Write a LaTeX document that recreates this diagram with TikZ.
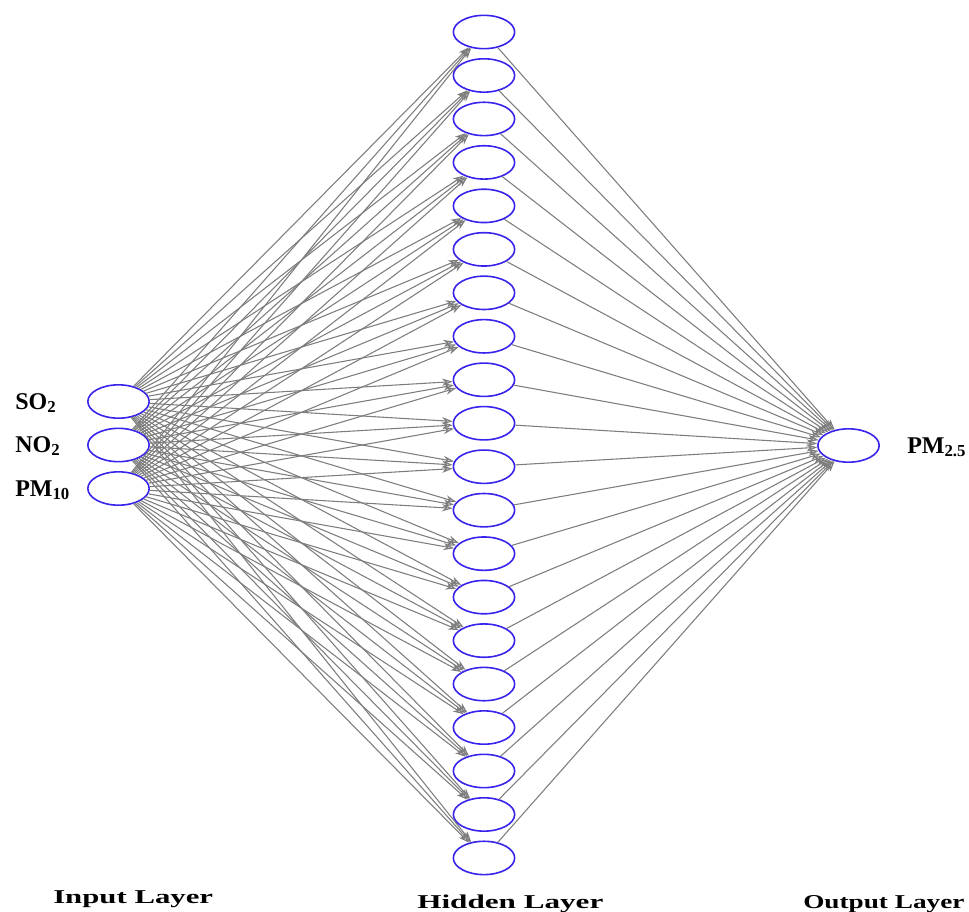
\documentclass[tikz,border=0pt]{standalone}
\usepackage{fontspec}
\setmainfont{Liberation Serif}
\usetikzlibrary{shapes.geometric,arrows.meta}
\definecolor{nodeblue}{RGB}{55,35,235}
\definecolor{edgegray}{RGB}{125,125,125}
\begin{document}
\begin{tikzpicture}[x=0.75pt,y=-0.75pt,
 neuron/.style={ellipse,draw=nodeblue,line width=1.2pt,minimum width=46pt,minimum height=25pt,inner sep=0pt},
 conn/.style={draw=edgegray,line width=0.8pt,-{Stealth[length=8pt,width=5.5pt,fill=edgegray!45]}},
 inlabel/.style={font=\bfseries\fontsize{18}{20}\selectfont,anchor=base west,inner sep=0pt},
 layerlabel/.style={font=\bfseries\fontsize{14.7}{17}\selectfont,anchor=base west,inner sep=0pt}]
\useasboundingbox (0,0) rectangle (969,911);
\foreach \i/\y in {1/401.5,2/445,3/488.5} \node[neuron] (in\i) at (118.5,\y) {};
\foreach \j in {1,...,20} \node[neuron] (h\j) at (484,{32+(\j-1)*43.47}) {};
\node[neuron] (out) at (848.5,445.5) {};
\foreach \i in {1,2,3} \foreach \j in {1,...,20} \draw[conn] (in\i) -- (h\j);
\foreach \j in {1,...,20} \draw[conn] (h\j) -- (out);
\node[inlabel] (lso) at (15,409.5) {SO\textsubscript{2}};
\node[inlabel] (lno) at (15,452) {NO\textsubscript{2}};
\node[inlabel] (lpm) at (15,496) {PM\textsubscript{10}};
\node[inlabel] (lout) at (907,453) {PM\textsubscript{2.5}};
\node[layerlabel] (linput) at (53,903) {\scalebox{1.57}[1]{Input Layer}};
\node[layerlabel] (lhidden) at (417,908) {\scalebox{1.59}[1]{Hidden Layer}};
\node[layerlabel] (loutput) at (803,908) {\scalebox{1.39}[1]{Output Layer}};
\end{tikzpicture}
\end{document}
